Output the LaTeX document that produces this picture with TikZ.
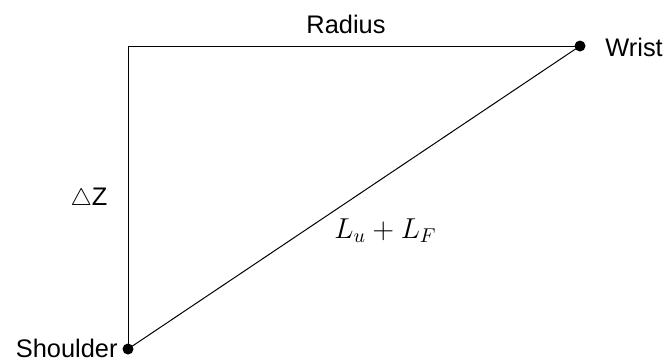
\documentclass[tikz,border=0pt]{standalone}
\usepackage{fontspec}
\setmainfont{Liberation Sans}
\begin{document}
\begin{tikzpicture}[x=0.5pt,y=-0.5pt,
  lbl/.style={font=\fontsize{12.7}{15}\selectfont, inner sep=0pt},
  mlbl/.style={font=\fontsize{13.9}{16}\selectfont, inner sep=0pt},
  dot/.style={circle, fill=black, inner sep=0pt, minimum size=5.5pt},
  seg/.style={line width=0.5pt}]
\useasboundingbox (0,0) rectangle (670,361);
\node[dot] (s) at (128,349) {};
\node[dot] (w) at (580,46) {};
\coordinate (c) at (128,46);
\draw[seg] (s.center) -- (c) -- (w.center);
\draw[seg] (s.center) -- (w.center);
\node[lbl, anchor=base east] (sl) at (118,357) {Shoulder};
\node[lbl, anchor=base west] (wl) at (605,56) {Wrist};
\node[lbl, anchor=base] (rl) at (346,33) {Radius};
\node[lbl, anchor=base] (dz) at (89,205) {$\triangle$Z};
\node[mlbl, anchor=base west] (lf) at (334,238) {$L_u+L_F$};
\end{tikzpicture}
\end{document}
